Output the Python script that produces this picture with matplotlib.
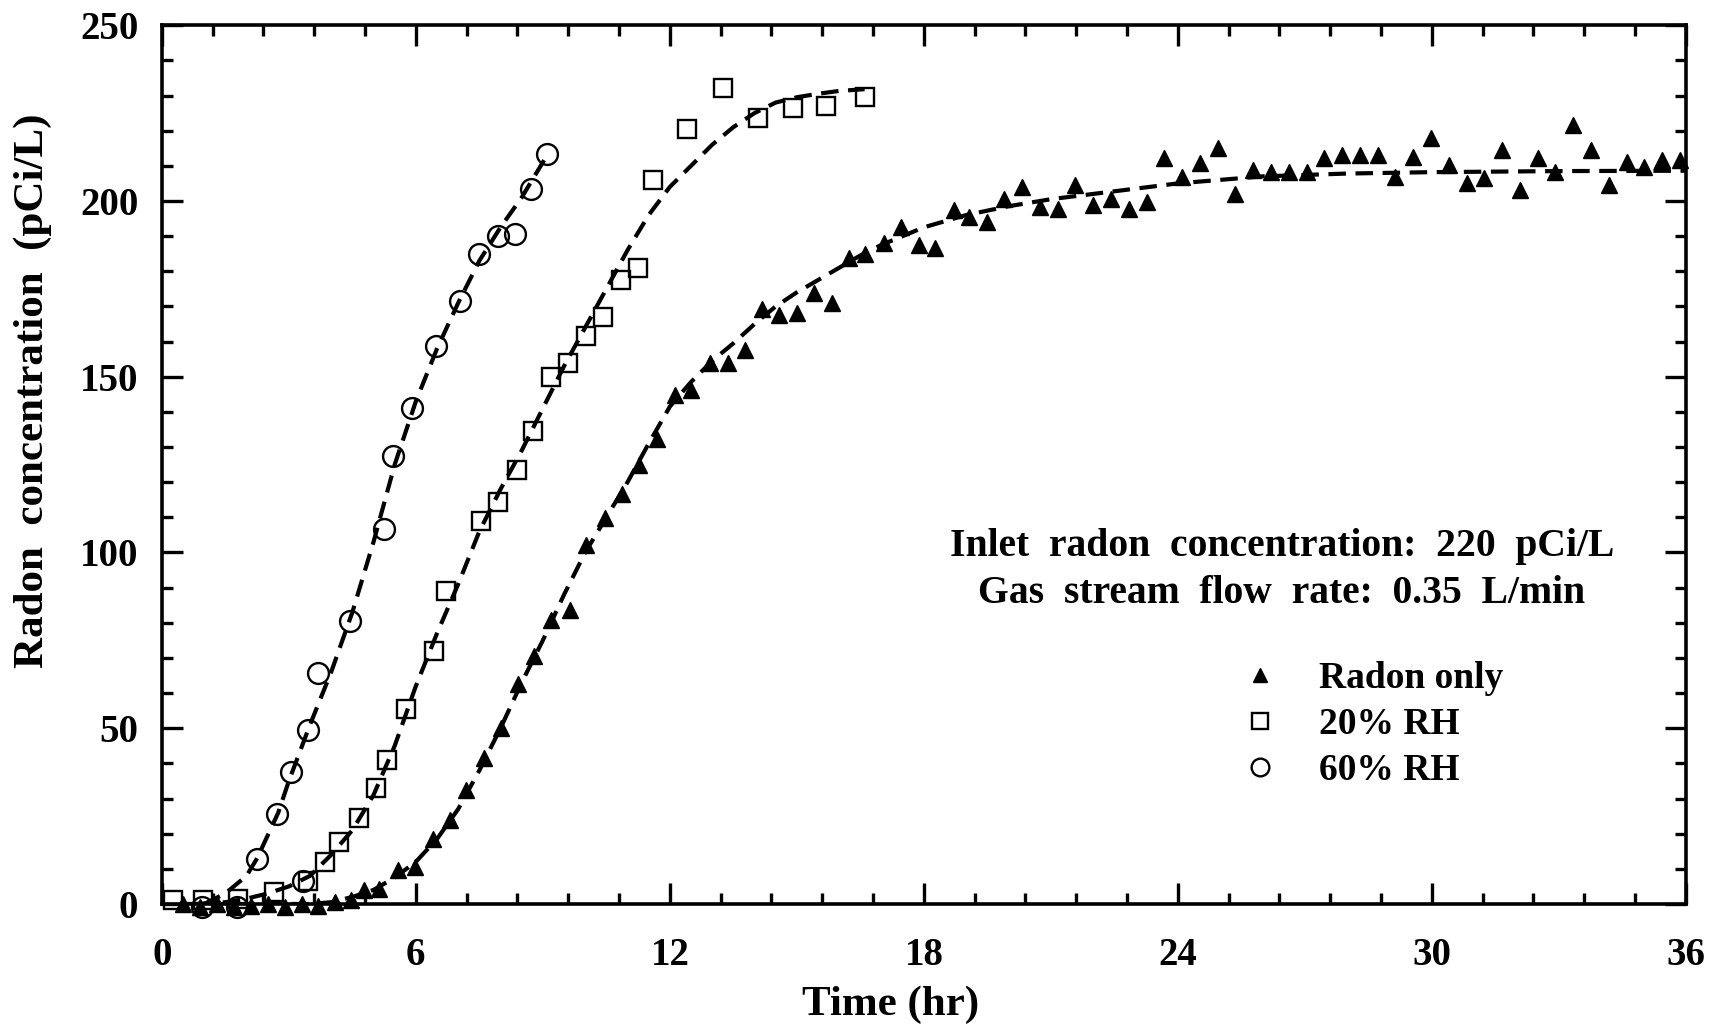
import matplotlib
matplotlib.use("Agg")
import matplotlib.pyplot as plt
from matplotlib.ticker import MultipleLocator

radon_t = [0.5, 0.9, 1.3, 1.7, 2.1, 2.5, 2.9, 3.3, 3.7, 4.1,
           4.47, 4.78, 5.14, 5.57, 5.97, 6.4, 6.8, 7.19, 7.6, 8.02,
           8.41, 8.8, 9.2, 9.64, 10.03, 10.47, 10.86, 11.27, 11.69, 12.12,
           12.51, 12.95, 13.37, 13.78, 14.17, 14.57, 15.0, 15.4, 15.83, 16.22,
           16.62, 17.05, 17.45, 17.88, 18.27, 18.71, 19.06, 19.5,
           19.9, 20.32, 20.74, 21.16, 21.58, 22.0, 22.42, 22.84, 23.26, 23.68,
           24.1, 24.52, 24.94, 25.36, 25.78, 26.2, 26.62, 27.04, 27.46, 27.88,
           28.3, 28.72, 29.14, 29.56, 29.98, 30.4, 30.82, 31.24, 31.66, 32.08,
           32.5, 32.92, 33.34, 33.76, 34.18, 34.6, 35.02, 35.44, 35.86]
radon_c = [0, -1, 0, -1, -0.5, 0, -1, 0, -0.5, 0.5,
           1, 3.9, 4.4, 9.6, 10.5, 18.6, 24, 32.3, 41.6, 50.2,
           62.7, 70.6, 80.7, 83.5, 102, 109.7, 116.5, 125, 132.4, 144.7,
           146.3, 153.8, 153.8, 157.5, 169.4, 167.5, 168, 173.7, 170.9, 183.7,
           185, 188, 192.7, 187.5, 186.5, 197.4, 195.5, 194,
           200.7, 204, 198.3, 197.8, 204.5, 198.8, 200.7, 197.8, 199.8, 212.1,
           206.9, 210.7, 215, 202.1, 208.8, 208.3, 208.3, 208.3, 212.1, 213,
           213, 213, 206.9, 212.6, 217.8, 210.2, 205, 206.4, 214.5, 203.1,
           212.1, 208.3, 221.6, 214.5, 204.5, 211.2, 209.7, 211.6, 211.6]

rh20_t = [0.26, 0.96, 1.8, 2.65, 3.45, 3.85, 4.19, 4.66, 5.05, 5.32,
          5.77, 6.43, 6.72, 7.55, 7.95, 8.38, 8.77, 9.2, 9.6, 10.02,
          10.42, 10.85, 11.24, 11.6, 12.4, 13.25, 14.09, 14.9, 15.7, 16.6]
rh20_c = [1, 1, 1.5, 3.5, 6.5, 12, 17.5, 24.5, 33, 41,
          55.5, 72, 89, 109, 114.5, 123.5, 134.5, 150, 154, 161.5,
          167, 177.5, 181, 206, 220.5, 232, 223.5, 226.5, 227, 229.5]

rh60_t = [0.94, 1.77, 2.24, 2.73, 3.04, 3.33, 3.46, 3.69, 4.44, 5.25,
          5.46, 5.9, 6.47, 7.04, 7.49, 7.93, 8.34, 8.73, 9.1]
rh60_c = [-1, -1, 12.8, 25.6, 37.5, 6.6, 49.4, 65.6, 80.6, 106.6,
          127.5, 141, 158.8, 171.6, 185, 190, 190.6, 203.4, 213.4]

# --- fitted curves (dashed) ---
fit_radon_t = [0.5, 3.5, 4.0, 4.5, 5.0, 5.5, 6.0, 6.5, 7.0, 7.5, 8.0, 8.5, 9.0, 9.5,
               10.0, 10.5, 11.0, 11.5, 12.0, 12.5, 13.0, 13.5, 14.0, 14.5, 15.0,
               15.5, 16.0, 16.5, 17.0, 17.5, 18.0, 19.0, 20.0, 21.0, 22.0, 23.0,
               24.0, 25.0, 26.0, 28.0, 30.0, 33.0, 36.0]
fit_radon_c = [0, 0, 0.5, 2, 4, 7.5, 12, 18.5, 27, 38, 50, 63, 75, 88,
               100, 110, 120, 131, 141.5, 148.5, 154.5, 159.5, 165, 170, 174,
               177.5, 181, 184.5, 187.5, 190, 192.5, 196, 198.5, 200.5, 202, 203.5,
               205, 206, 207, 207.8, 208.2, 208.5, 208.6]

fit_rh20_t = [0.8, 1.5, 2.0, 2.5, 3.0, 3.5, 4.0, 4.5, 5.0, 5.5, 6.0, 6.5, 7.0, 7.5,
              8.0, 8.5, 9.0, 9.5, 10.0, 10.5, 11.0, 11.5, 12.0, 12.5, 13.0, 13.5,
              14.0, 14.5, 15.0, 15.5, 16.0, 16.6]
fit_rh20_c = [0, 0.5, 1.5, 3, 5, 8, 14, 21, 31, 45, 62, 77, 91, 106,
              118, 129, 141, 153, 164, 175, 186, 196, 204, 210, 216, 221,
              225, 228, 229.5, 230.5, 231.3, 231.8]

fit_rh60_t = [1.0, 1.5, 2.0, 2.25, 2.75, 3.0, 3.5, 4.0, 4.5, 5.0, 5.5, 6.0,
              6.5, 7.0, 7.5, 8.0, 8.5, 9.1]
fit_rh60_c = [0, 3, 8, 13, 26, 35, 51, 66, 83, 103, 125, 143,
              158, 171, 183, 192.5, 201, 213]

series_labels = ["Radon only", "20% RH", "60% RH"]
note_lines = ["Inlet  radon  concentration:  220  pCi/L",
              "Gas  stream  flow  rate:  0.35  L/min"]
x_ticks = [0, 6, 12, 18, 24, 30, 36]
y_ticks = [0, 50, 100, 150, 200, 250]

plt.rcParams["font.family"] = ["Liberation Serif", "DejaVu Serif"]
plt.rcParams["font.weight"] = "bold"

fig = plt.figure(figsize=(17.22, 10.29), dpi=100)
ax = fig.add_axes([0.094, 0.1215, 0.885, 0.854])

dash_kw = dict(color="black", lw=3.0, dashes=(4.2, 2.3))
ax.plot(fit_radon_t, fit_radon_c, **dash_kw)
ax.plot(fit_rh20_t, fit_rh20_c, **dash_kw)
ax.plot(fit_rh60_t, fit_rh60_c, **dash_kw)

h_tri, = ax.plot(radon_t, radon_c, ls="none", marker="^", ms=11.5,
                 color="black", clip_on=False, zorder=3)
h_sq, = ax.plot(rh20_t, rh20_c, ls="none", marker="s", ms=13, mfc="none",
                mec="black", mew=1.7, clip_on=False, zorder=3)
h_ci, = ax.plot(rh60_t, rh60_c, ls="none", marker="o", ms=15, mfc="none",
                mec="black", mew=1.7, clip_on=False, zorder=3)

ax.set_xlim(0, 36)
ax.set_ylim(0, 250)
ax.set_xticks(x_ticks)
ax.set_yticks(y_ticks)
ax.xaxis.set_minor_locator(MultipleLocator(1.2))
ax.yaxis.set_minor_locator(MultipleLocator(10))
ax.tick_params(which="both", direction="in", top=True, right=True,
               width=2.4, labelsize=28)
ax.tick_params(which="major", length=15)
ax.tick_params(which="minor", length=8)
ax.tick_params(axis="x", which="major", pad=24)
ax.tick_params(axis="y", which="major", pad=17)
for s in ax.spines.values():
    s.set_linewidth(2.6)

ax.text(0.478, -0.115, "Time (hr)", transform=ax.transAxes,
        ha="center", va="center", fontsize=31)
ax.text(-0.0845, 0.584, "Radon  concentration  (pCi/L)", transform=ax.transAxes,
        ha="center", va="center", rotation=90, fontsize=31)

ax.text(0.735, 0.3805, "\n".join(note_lines), transform=ax.transAxes,
        ha="center", va="center", multialignment="center",
        fontsize=28.5, linespacing=1.36)

ax.legend([h_tri, h_sq, h_ci], series_labels, loc="center left",
          bbox_to_anchor=(0.7082, 0.204), frameon=False, borderpad=0,
          borderaxespad=0, handlelength=1.0, handletextpad=1.08,
          labelspacing=0.3, markerscale=0.85, numpoints=1,
          prop=dict(size=27, weight="bold"))

fig.savefig("out.png", dpi=100)
